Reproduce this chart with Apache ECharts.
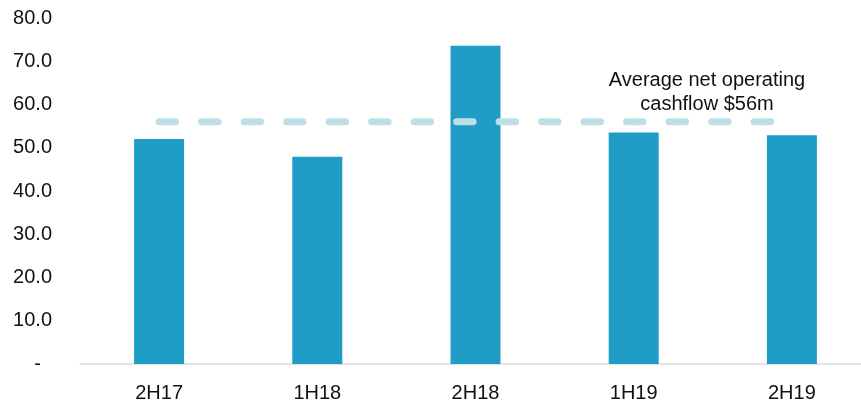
<!DOCTYPE html>
<html><head><meta charset="utf-8">
<script src="https://cdn.jsdelivr.net/npm/echarts@6/dist/echarts.min.js"></script>
<style>html,body{margin:0;padding:0;background:#fff;overflow:hidden}#c{width:871px;height:407px}</style>
</head><body><div id="c"></div>
<script>
var categories = ['2H17', '1H18', '2H18', '1H19', '2H19'];
var cashflow = [52.0, 47.9, 73.6, 53.5, 52.9];
var average = 56;
var annotation = 'Average net operating\ncashflow $56m';
var yMin = 0, yMax = 80, yStep = 10;

var chart = echarts.init(document.getElementById('c'), null, {renderer: 'canvas'});
var font = '"Liberation Sans", Arial, sans-serif';
chart.setOption({
  animation: false,
  grid: {left: 80, top: 18, right: 0, height: 346, containLabel: false},
  xAxis: {
    type: 'category', data: categories,
    axisLine: {show: true, lineStyle: {color: '#d9d9d9', width: 1.5}},
    axisTick: {show: false},
    axisLabel: {color: '#111', fontSize: 20, fontFamily: font, margin: 19}
  },
  yAxis: {
    type: 'value', min: yMin, max: yMax, interval: yStep,
    axisLine: {show: false}, axisTick: {show: false}, splitLine: {show: false},
    axisLabel: {color: '#111', fontSize: 20, fontFamily: font, margin: 28,
      formatter: function (v) { return v === 0 ? '-  ' : v.toFixed(1); }}
  },
  series: [
    {type: 'bar', data: cashflow, barWidth: 50, itemStyle: {color: '#1F9DC7'}, z: 2},
    {type: 'line', data: categories.map(function () { return average; }),
      symbol: 'none', z: 3,
      lineStyle: {color: '#BEDFE6', width: 7, type: [16.5, 26], cap: 'round'}}
  ],
  graphic: [{
    type: 'text', x: 707, y: 68,
    style: {text: annotation, fill: '#111', font: '20px ' + font,
      align: 'center', textAlign: 'center', lineHeight: 24}
  }]
});
</script></body></html>
